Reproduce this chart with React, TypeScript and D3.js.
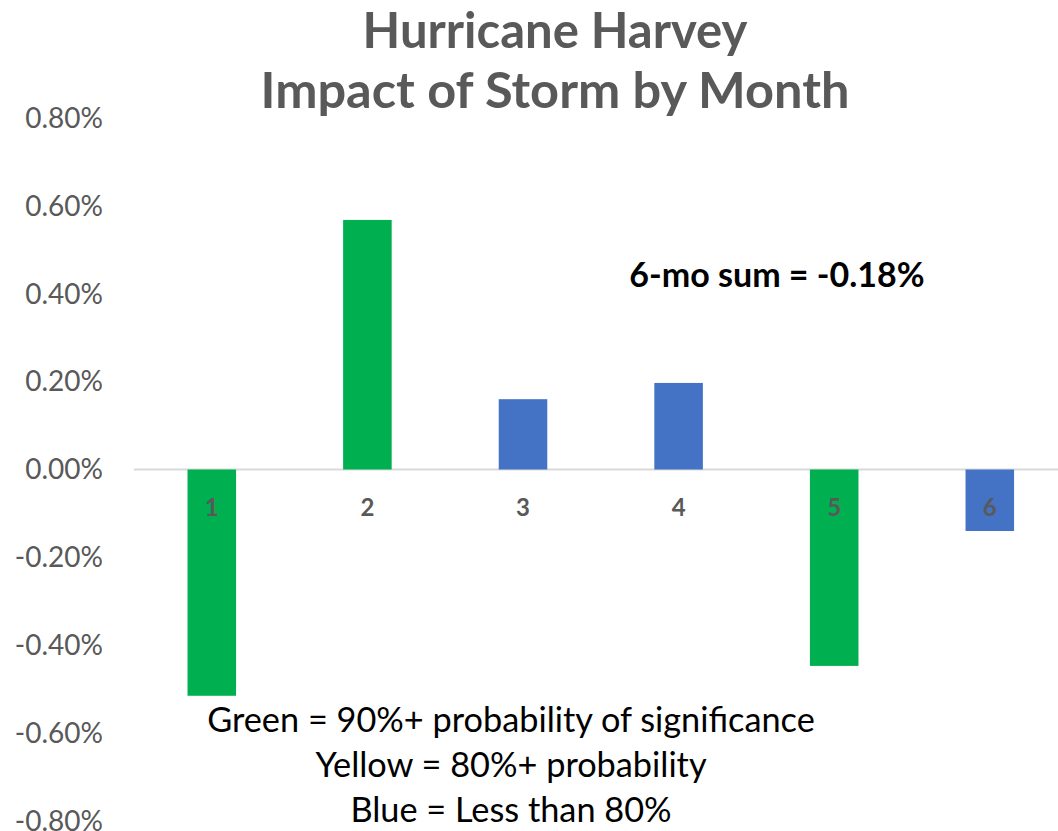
import React from "react";
import * as d3 from "d3";

const months = ["1", "2", "3", "4", "5", "6"];
const impacts = [-0.515, 0.568, 0.16, 0.197, -0.447, -0.14];
const significance = ["green", "green", "blue", "blue", "green", "blue"];
const yTicks = [-0.8, -0.6, -0.4, -0.2, 0, 0.2, 0.4, 0.6, 0.8];
const titleLines = ["Hurricane Harvey", "Impact of Storm by Month"];
const sumLabel = "6-mo sum = -0.18%";
const legendLines = [
  "Green = 90%+ probability of significance",
  "Yellow = 80%+ probability",
  "Blue = Less than 80%",
];

const W = 1058;
const H = 831;
const FONT = "Lato, 'Open Sans', sans-serif";
const colorMap: Record<string, string> = {
  green: "#00B050",
  yellow: "#FFC000",
  blue: "#4472C4",
};

const fmt = (v: number) => d3.format(".2f")(v).replace("\u2212", "-") + "%";

export default function App() {
  const y = d3.scaleLinear().domain([-0.8, 0.8]).range([821, 118]);
  const x = d3
    .scaleBand<string>()
    .domain(months)
    .range([134, 1067.6])
    .paddingInner(0.688)
    .paddingOuter(0.344);
  const y0 = y(0);

  return (
    <svg
      width={W}
      height={H}
      style={{ position: "absolute", left: 0, top: 0, background: "#fff" }}
      fontFamily={FONT}
    >
      <rect x={0} y={0} width={W} height={H} fill="#fff" />
      {titleLines.map((t, i) => (
        <text
          key={t}
          x={555}
          y={48 + i * 60}
          textAnchor="middle"
          fontSize={i === 0 ? 49 : 50.5}
          fontWeight={700}
          fill="#595959"
        >
          {t}
        </text>
      ))}
      {yTicks.map((v) => (
        <text
          key={v}
          x={103}
          y={y(v)}
          dy="0.35em"
          textAnchor="end"
          fontSize={28}
          fill="#595959"
        >
          {fmt(v)}
        </text>
      ))}
      <line x1={134} x2={W} y1={y0} y2={y0} stroke="#D9D9D9" strokeWidth={2} />
      {impacts.map((v, i) => {
        const m = months[i];
        const top = v >= 0 ? y(v) : y0;
        const h = Math.abs(y(v) - y0);
        return (
          <rect
            key={m}
            x={x(m)}
            y={top}
            width={x.bandwidth()}
            height={h}
            fill={colorMap[significance[i]]}
          />
        );
      })}
      {months.map((m) => (
        <text
          key={m}
          x={(x(m) as number) + x.bandwidth() / 2}
          y={508}
          dy="0.35em"
          textAnchor="middle"
          fontSize={24}
          fontWeight={700}
          fill="#595959"
        >
          {m}
        </text>
      ))}
      <text x={777} y={287} textAnchor="middle" fontSize={34} fontWeight={700} fill="#000">
        {sumLabel}
      </text>
      {legendLines.map((t, i) => (
        <text
          key={t}
          x={511}
          y={732 + i * 45}
          textAnchor="middle"
          fontSize={34.3}
          fill="#000"
        >
          {t}
        </text>
      ))}
    </svg>
  );
}
